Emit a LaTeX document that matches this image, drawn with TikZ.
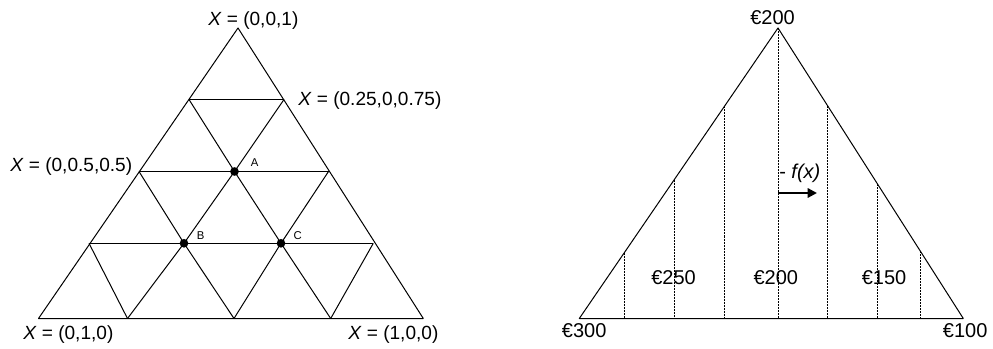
\documentclass[tikz,border=0pt]{standalone}
\usepackage{fontspec}
\setmainfont{Liberation Sans}
\usetikzlibrary{arrows.meta}
\begin{document}
\begin{tikzpicture}[x=0.75pt,y=-0.75pt,
  edge/.style={line width=0.75pt, line join=round},
  dotline/.style={line width=0.65pt, dash pattern=on 1.5pt off 0.75pt},
  lbl/.style={anchor=base west, inner sep=0pt, font=\fontsize{14.3}{16}\selectfont},
  euro/.style={anchor=base west, inner sep=0pt, font=\fontsize{15}{18}\selectfont},
  small/.style={anchor=base west, inner sep=0pt, font=\fontsize{8.5}{10}\selectfont},
  dot/.style={circle, fill=black, inner sep=0pt, minimum size=6.5pt}]
\useasboundingbox (0,0) rectangle (993,349);
% ---------- left triangle ----------
\coordinate (T)  at (238,28);
\coordinate (L1) at (189,99.5);  \coordinate (R1) at (284,99.5);
\coordinate (L2) at (139,171.5); \coordinate (A)  at (234.5,171.5); \coordinate (R2) at (328.5,171.5);
\coordinate (L3) at (89,243.3);  \coordinate (B)  at (184,243.3);   \coordinate (C)  at (281,243.3); \coordinate (R3) at (373.3,243.3);
\coordinate (P0) at (38.5,318.5); \coordinate (P1) at (127.5,318.5); \coordinate (P2) at (234,318.5);
\coordinate (P3) at (330.7,318.5); \coordinate (P4) at (423.3,318.5);
\draw[edge] (T) -- (P0) -- (P4) -- cycle;
\draw[edge] (L1) -- (R1);
\draw[edge] (L2) -- (R2);
\draw[edge] (L3) -- (R3);
\draw[edge] (P1) -- (B) -- (A) -- (R1);
\draw[edge] (P2) -- (C) -- (R2);
\draw[edge] (P3) -- (R3);
\draw[edge] (P3) -- (C) -- (A) -- (L1);
\draw[edge] (P2) -- (B) -- (L2);
\draw[edge] (P1) -- (L3);
\node[dot] (dA) at (A) {};
\node[dot] (dB) at (B) {};
\node[dot] (dC) at (C) {};
\node[small] (tA) at (250.7,167) {A};
\node[small] (tB) at (196.7,239) {B};
\node[small] (tC) at (293.3,239) {C};
\node[lbl] (x1) at (208,26) {\textit{X} = (0,0,1)};
\node[lbl] (x2) at (298,106) {\textit{X} = (0.25,0,0.75)};
\node[lbl] (x3) at (10,172) {\textit{X} = (0,0.5,0.5)};
\node[lbl] (x4) at (23,339) {\textit{X} = (0,1,0)};
\node[lbl] (x5) at (348,339) {\textit{X} = (1,0,0)};
% ---------- right triangle ----------
\coordinate (QT) at (778,28);
\coordinate (Q0) at (579.3,318.5);
\coordinate (Q4) at (963.3,318.5);
\coordinate (v1t) at (624.3,252.7); \coordinate (v1b) at (624.3,318.5);
\coordinate (v2t) at (674.3,179.6); \coordinate (v2b) at (674.3,318.5);
\coordinate (v3t) at (724.3,106.5); \coordinate (v3b) at (724.3,318.5);
\coordinate (v4b) at (778,318.5);
\coordinate (v5t) at (827.7,105.9); \coordinate (v5b) at (827.7,318.5);
\coordinate (v6t) at (877.7,184.3); \coordinate (v6b) at (877.7,318.5);
\coordinate (v7t) at (920.3,251.1); \coordinate (v7b) at (920.3,318.5);
\draw[dotline] (v1t) -- (v1b);
\draw[dotline] (v2t) -- (v2b);
\draw[dotline] (v3t) -- (v3b);
\draw[dotline] (QT) -- (v4b);
\draw[dotline] (v5t) -- (v5b);
\draw[dotline] (v6t) -- (v6b);
\draw[dotline] (v7t) -- (v7b);
\draw[edge] (QT) -- (Q0) -- (Q4) -- cycle;
\coordinate (ar0) at (778,193);
\coordinate (ar1) at (817,193);
\draw[line width=1.6pt, -{Triangle[length=7pt,width=7pt]}] (ar0) -- (ar1);
\node[euro] (fx) at (779,179) {- \textit{f(x)}};
\node[euro] (e1) at (750,25) {€200};
\node[euro] (e2) at (651,284) {€250};
\node[euro] (e3) at (753.3,284) {€200};
\node[euro] (e4) at (861.5,284) {€150};
\node[euro] (e5) at (561.7,337) {€300};
\node[euro] (e6) at (942.7,337) {€100};
\end{tikzpicture}
\end{document}
